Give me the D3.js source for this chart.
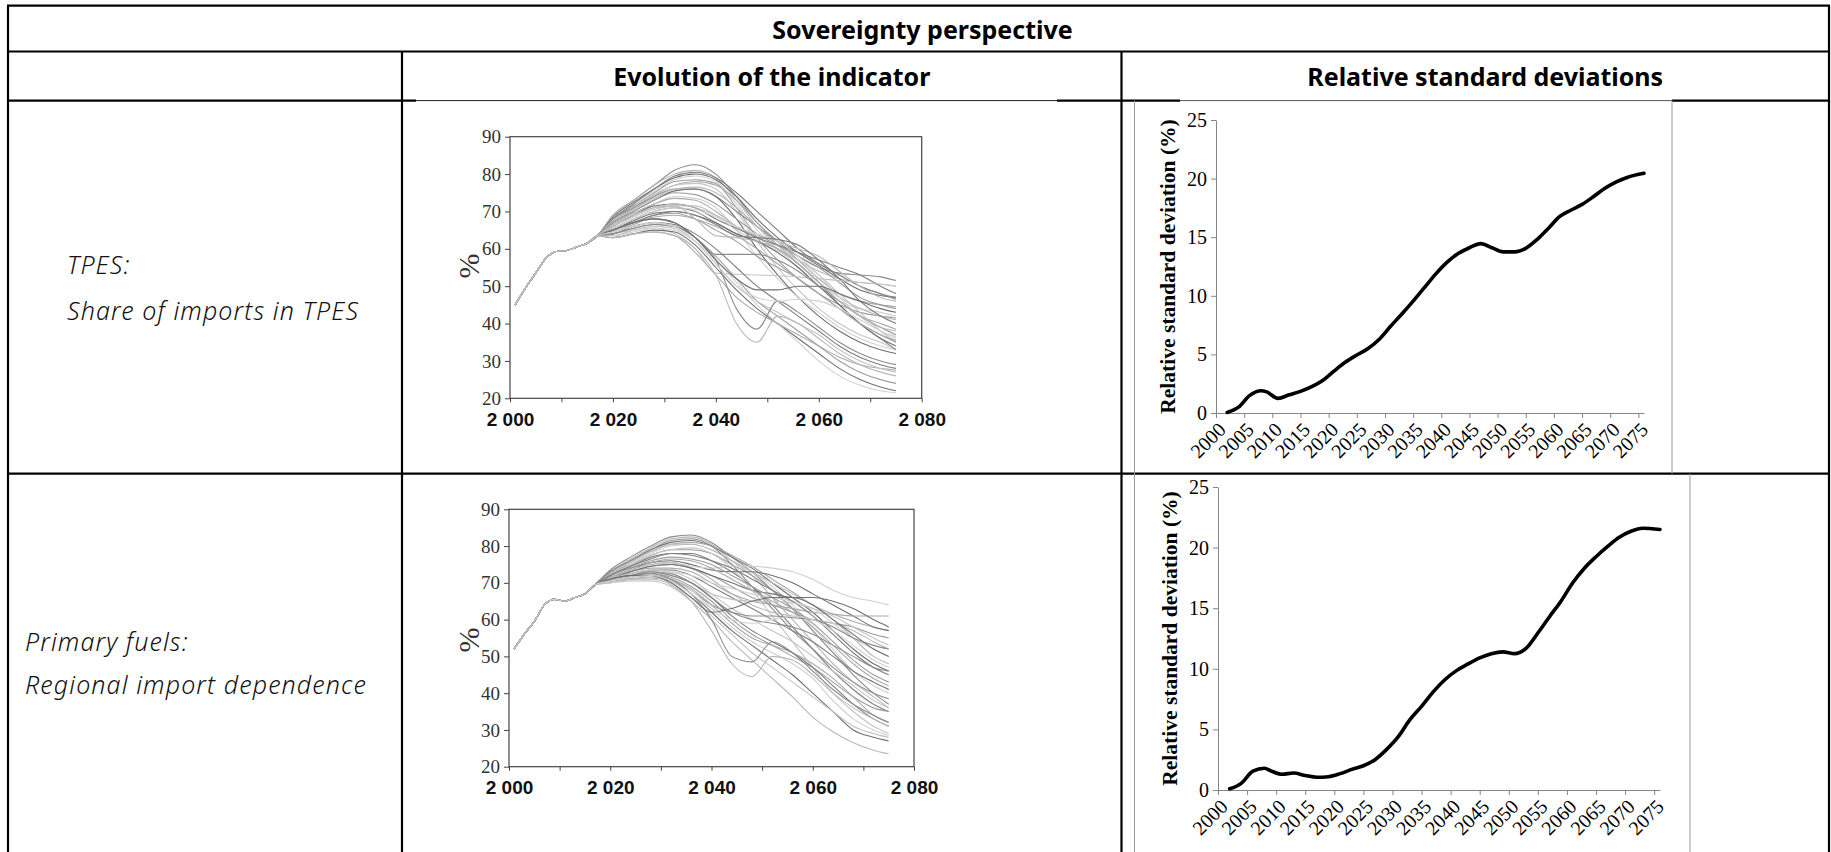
<!DOCTYPE html>
<html><head><meta charset="utf-8">
<script src="https://cdn.jsdelivr.net/npm/d3@7"></script>
<style>body{margin:0;background:#fff;} svg{display:block;}</style>
</head><body>
<svg id="c" width="1831" height="852"></svg>
<script>
// ---------------- DATA ----------------
const headerTitle = "Sovereignty perspective";
const columnTitles = ["Evolution of the indicator", "Relative standard deviations"];
const rowLabels = [["TPES:", "Share of imports in TPES"], ["Primary fuels:", "Regional import dependence"]];

const evoXTicks = [2000, 2020, 2040, 2060, 2080];
const evoXMinorTicks = [2000, 2010, 2020, 2030, 2040, 2050, 2060, 2070, 2080];
const evoYTicks = [20, 30, 40, 50, 60, 70, 80, 90];
const evoYLabel = "%";

const histYears = [2001, 2003, 2005, 2007, 2009, 2011, 2013, 2015, 2017];
const scenYears = [2020, 2024, 2028, 2032, 2036, 2040, 2044, 2048, 2052, 2056, 2060, 2064, 2068, 2072, 2075];

const tpesHistory = [45, 49.5, 53.5, 57.5, 59.3, 59.5, 60.5, 61.5, 63.5];
const tpesScenarios = [
  [69,73,77,81,82.5,80,74,67,62,58,55,53.5,53,52.5,51.5],
  [69,73,77,80,81,79,73,66,61,57,54,52,51,50.5,50],
  [68.5,72.5,76,79,80,78.5,74,68,63,59,55.5,52,49,47.5,47],
  [68,72,75.5,78.5,79.5,78,72,65,60,55,50,46,44,43,42],
  [68,71.5,75,78,78.5,77.5,71,63,57,52,48,45,43,42,41.5],
  [67.5,71,74.5,77,78,77,73,67,62,57,52,48,46,45,44.5],
  [68,72,76,79.5,80.5,79,75,70,65,60,56,53,50,48,46.5],
  [67,70.5,74,77,77.5,76,70,62,55,49,44,40,37,35,33],
  [68,71,74,76,76,74,70,66,62,59,56,53,50,48,47],
  [67.5,70.5,73.5,76,76.5,75,71,66,61,56,51,47,44,42,41],
  [67,70,73,75.5,76,74,68,60,53,47,42,38,35,33,32],
  [66,69,72,74,73.5,71,65,58,52,47,43,39,36,34,33],
  [67,70,73,75,74.5,72,68,64,61,58,55,51,47,45,44],
  [66.5,69.5,72,73.5,73,70,66,63,60,56,51,46,42,40,38.5],
  [66,69,71.5,72,71,68,65.5,63,61,59,57,55,53,50,48],
  [66,68.5,70.5,71.5,71.5,69,65,62,59.5,57,53,48,43,38,35],
  [65.5,68,70,71,70,67,64,62,60,56,51,45,40,36,33],
  [66.5,69,71,72,71,69,66,63.5,62,60,58,54,50,47,46],
  [65,67.5,69.5,70,69,67,64,62,59,55,50,45,40,36,34],
  [65.5,68,70,71,70.5,68.5,66,64,62,58,53,47,42,38,36.5],
  [65,67,69,69.5,68,65,62,58,55,52,48,44,40,37,35],
  [64.5,66.5,68.5,69,68,66,63.5,60,56,52,48,44,40,37,35.5],
  [65,67,69,70,69,66.5,63.5,63,62.5,61,57,52,46,42,40],
  [64,65,65.5,64,60,53.5,53.2,53,52.8,52.5,52,51.5,51,50.5,50],
  [65,67,68,67,63,58.5,58.5,58.5,57,54,50,46,42,39,37],
  [66,69,71,71.5,68,63.5,63,62,60,56,51,46,42,39,38],
  [63,64,65,64.5,61,55,49,44,40,36,32,28,25,23,22],
  [63.5,64.5,65.5,65,62,57,51,45,40,35,30,26,23.5,22,21.5],
  [64,65.5,66.5,66,63,58,52,46,42,38,34,30,27,25,24],
  [63,64,64.5,63.5,59,53,47,43,40,37,34,31,29,28,27.5],
  [64,66,67,66.5,64,60,55,50,46,42,38,34,31,29,28],
  [63.5,65,66,65.5,62,56,50,46,43,40,37,33,30,28,27],
  [64,65.5,66.5,66,63,57,44,38.5,46,43,39,35,32,30,29],
  [63,64,64.5,63.5,60,53,40,35,42,40,36,32,29,27,26],
  [65,67,68,67,63,57,52,49,49,50,50,48,46,44,43],
  [64.5,66,67,66,62,56,50,47,46,46.5,46,44,41,38,36]
];

const rimpHistory = [52, 56, 59.5, 64, 65.5, 65, 66, 67, 69.5];
const rimpScenarios = [
  [73.5,77,80,82.5,83,81,77,73,68,63,57,51,45,40,37],
  [73,76.5,79.5,82,82.5,80.5,76,72,66,60,54,48,43,39,36],
  [73,76,79,81,81.5,80,77,74,70,66,62,57,52,48,46],
  [72.5,75.5,78,80,80.5,79,76,73,69,64,58,52,46,42,40],
  [72.5,75,77.5,79,79,78,75,72,68,63,57,51,46,43,41],
  [73,76,78.5,80.5,81,80,77.5,74.5,71,67.5,64,61.5,59.5,58,57],
  [72,74.5,77,78,78,76,73,69,64,58,52,46,41,37,35],
  [72,75,77.5,79,79.5,78,74,68,61,54,47,40,35,31,29],
  [73,76,79,81.5,82,80,75,69,63,57,52,47,43,40,38.5],
  [72.5,75.5,78.5,80.5,80.5,79,76,73,70,67,64,60,55,50,48],
  [72,74,75.5,76,75,73.5,73,73,72,70,67,64,61,58,57],
  [71.5,73.5,75,75.5,74.5,74,74.5,74.5,74,73,71,68,66,65,64],
  [71.5,73,74.5,75,74,72,69,66,64,62,60,59,58,56,55],
  [71,73,74,74,73,70,67,65,64,63,62,61.5,61,61,61],
  [71,72.5,73.5,73.5,72,69,66,63,60,57,54,50,46,43,41],
  [71,72.5,73.5,73,71,67,63,60,57,54,50,46,42,38,36],
  [70.5,72,73,72.5,70,66,62,60,59,58,56,53,50,47,46],
  [71.5,73.5,75,75.5,74,71,67,64,62,61,60,59,57,54,52],
  [71,73,74.5,75,74,72,70,68,67,66,66,65,63,60,58],
  [70.5,72,73,73,72,70,68.5,67,66,65,63,59,55,52,50],
  [72,74,76,77,76.5,75,72,69,66,63,59,54,49,45,43],
  [71.5,73.5,75.5,76.5,76,74,71,68,65,62,58,53,48,44,42],
  [72,74.5,76.5,78,77.5,76,74,71,68,65,61,56,51,47,45],
  [71,72.5,73,72,70,67,65.5,65,65,64.5,63,61,58,55,53],
  [70.5,71.5,72,71,68,64,62,61,61,60.5,60,58,55,53,52],
  [70,70.5,70.5,69,65,60,54,49,44,39,33.5,29.5,26.5,24.5,23.5],
  [70.5,71,71.5,70.5,67,62,57,53,49,45,40,35,30,28,27],
  [70.5,71.5,72,71,68,63,58,54,51,48,44,38,33,30,28.5],
  [71,72,72.5,71.5,69,65,60,56,53,50,47,43,39,36,35],
  [70.5,71.5,72,71,68.5,64,59,55,53,51,48,44,39,34,32],
  [71,72,73,72,70,66,61,57,54,51,47,42,37,33,31],
  [70,71,71.5,70,66,61,56,51,47,43,39,35,31,29,28],
  [71,72,72.5,71,67,60,50,48.5,54,51,46,41,37,34,32],
  [70.5,71,71,69.5,65,57,48,44.5,50,49,45,40,36,33,31],
  [71,72,72,70,66,62,63,65,66,66,64,60,56,52,50],
  [70.5,71.5,72,70.5,67,63,60,59,60,61,60,57,53,49,47]
];

const rsdYears = [2002,2004,2006,2008,2009,2011,2013,2015,2017,2019,2021,2023,2025,2027,2029,2031,2033,2035,2037,2039,2041,2043,2045,2047,2049,2051,2053,2055,2057,2059,2061,2063,2065,2067,2069,2071,2073,2076];
const rsdTpes = [0.05,0.5,1.5,1.9,1.8,1.25,1.55,1.85,2.25,2.8,3.6,4.35,4.95,5.5,6.3,7.4,8.45,9.55,10.7,11.85,12.85,13.6,14.1,14.45,14.1,13.75,13.75,14.05,14.8,15.75,16.75,17.3,17.8,18.45,19.15,19.7,20.1,20.45];
const rsdRimp = [0.1,0.55,1.55,1.8,1.6,1.3,1.4,1.2,1.05,1.1,1.35,1.7,2.0,2.5,3.35,4.4,5.8,6.9,8.1,9.1,9.85,10.4,10.9,11.25,11.4,11.25,11.7,12.95,14.3,15.6,17.1,18.3,19.25,20.1,20.85,21.35,21.6,21.5];
const rsdXTicks = [2000,2005,2010,2015,2020,2025,2030,2035,2040,2045,2050,2055,2060,2065,2070,2075];
const rsdYTicks = [0, 5, 10, 15, 20, 25];
const rsdYLabel = "Relative standard deviation (%)";

// ---------------- STYLES / LAYOUT ----------------
const grayPalette = ["#8c8c8c","#b8b8b8","#707070","#d0d0d0","#9e9e9e","#aaaaaa","#7e7e7e","#c4c4c4"];
const svg = d3.select("#c");
svg.append("rect").attr("width",1831).attr("height",852).attr("fill","#fff");

const T = {left: 8, right: 1829, top: 5.7, hdr1: 51.5, hdr2: 100.6, row1: 473.7, bottom: 852, col1: 402, col2: 1121.5};
const hdrFont = "'Noto Sans', 'DejaVu Sans', sans-serif";

// ---------------- EVOLUTION CHARTS ----------------
const fmtSpace = d3.formatLocale({decimal: ".", thousands: " ", grouping: [3], currency: ["", ""]}).format(",");

function drawEvo(cfg, history, scenarios) {
  const g = svg.append("g");
  const x = d3.scaleLinear().domain([2000, 2080]).range([cfg.x0, cfg.x1]);
  const y = d3.scaleLinear().domain([20, 90]).range([cfg.y1, cfg.y0]);
  const line = d3.line().x(d => x(d[0])).y(d => y(d[1])).curve(d3.curveMonotoneX);
  scenarios.forEach((s, i) => {
    const pts = histYears.map((yr, k) => [yr, history[k]]).concat(scenYears.map((yr, k) => [yr, s[k]]));
    g.append("path").attr("d", line(pts)).attr("fill", "none")
      .attr("stroke", grayPalette[i % grayPalette.length]).attr("stroke-width", 1.1);
  });
  g.append("rect").attr("x", cfg.x0).attr("y", cfg.y0).attr("width", cfg.x1 - cfg.x0).attr("height", cfg.y1 - cfg.y0)
    .attr("fill", "none").attr("stroke", "#444").attr("stroke-width", 1.2);
  const ya = g.append("g").attr("transform", `translate(${cfg.x0},0)`)
    .call(d3.axisLeft(y).tickValues(evoYTicks).tickSize(5).tickPadding(4));
  ya.select(".domain").remove();
  ya.selectAll("line").attr("stroke", "#444");
  ya.selectAll("text").attr("font-family", "'Liberation Serif', serif").attr("font-size", 19).attr("fill", "#333");
  const xa = g.append("g").attr("transform", `translate(0,${cfg.y1})`)
    .call(d3.axisBottom(x).tickValues(evoXMinorTicks).tickSize(4).tickPadding(10)
      .tickFormat(d => evoXTicks.includes(d) ? fmtSpace(d) : ""));
  xa.select(".domain").remove();
  xa.selectAll("line").attr("stroke", "#444");
  xa.selectAll("text").attr("font-family", "'Liberation Sans', Arial, sans-serif").attr("font-weight", "bold")
    .attr("font-size", 19).attr("fill", "#111");
  g.append("text").attr("transform", `translate(${cfg.labX},${cfg.labY}) rotate(-90)`)
    .attr("text-anchor", "middle").attr("dominant-baseline", "central")
    .attr("font-family", "'Liberation Serif', serif").attr("font-size", 30).attr("fill", "#333").text(evoYLabel);
}

drawEvo({x0: 510, x1: 921.7, y0: 136.7, y1: 398.3, labX: 468, labY: 266}, tpesHistory, tpesScenarios);
drawEvo({x0: 509, x1: 914, y0: 509.3, y1: 766.7, labX: 468, labY: 640}, rimpHistory, rimpScenarios);

// ---------------- RSD CHARTS ----------------
function drawRsd(cfg, values) {
  const g = svg.append("g");
  const x = d3.scaleLinear().domain([2000, 2076]).range([cfg.x0, cfg.x1]);
  const y = d3.scaleLinear().domain([0, 25]).range([cfg.yb, cfg.yt]);
  const ya = g.append("g").attr("transform", `translate(${cfg.x0},0)`)
    .call(d3.axisLeft(y).tickValues(rsdYTicks).tickSize(5).tickPadding(4).tickSizeOuter(0));
  ya.select(".domain").attr("stroke", "#868686");
  ya.selectAll("line").attr("stroke", "#868686");
  ya.selectAll("text").attr("font-family", "'Liberation Serif', serif").attr("font-size", 20).attr("fill", "#000");
  const xa = g.append("g").attr("transform", `translate(0,${cfg.yb})`)
    .call(d3.axisBottom(x).tickValues(rsdXTicks).tickSize(5).tickSizeOuter(0).tickFormat(""));
  xa.select(".domain").attr("stroke", "#868686");
  xa.selectAll("line").attr("stroke", "#868686");
  g.selectAll(".xl").data(rsdXTicks).enter().append("text")
    .attr("transform", d => `translate(${x(d) + 6},${cfg.yb + 13}) rotate(-45)`)
    .attr("text-anchor", "end").attr("dy", "0.35em")
    .attr("font-family", "'Liberation Serif', serif").attr("font-size", 20).attr("fill", "#000")
    .text(d => d);
  const line = d3.line().x((d, i) => x(rsdYears[i])).y(d => y(d)).curve(d3.curveMonotoneX);
  g.append("path").attr("d", line(values)).attr("fill", "none").attr("stroke", "#000")
    .attr("stroke-width", 3.6).attr("stroke-linecap", "round").attr("stroke-linejoin", "round");
  g.append("text").attr("transform", `translate(${cfg.labX},${(cfg.yb + cfg.yt) / 2}) rotate(-90)`)
    .attr("text-anchor", "middle").attr("dominant-baseline", "central")
    .attr("font-family", "'Liberation Serif', serif").attr("font-weight", "bold").attr("font-size", 21.5)
    .attr("fill", "#000").text(rsdYLabel);
}

drawRsd({x0: 1216, x1: 1644, yb: 413, yt: 120, labX: 1168}, rsdTpes);
drawRsd({x0: 1218, x1: 1660, yb: 790, yt: 487, labX: 1170}, rsdRimp);

// ---------------- TABLE ----------------
const tl = svg.append("g");
function hline(y, x1, x2, w, c) { tl.append("line").attr("x1", x1).attr("x2", x2).attr("y1", y).attr("y2", y).attr("stroke", c || "#000").attr("stroke-width", w); }
function vline(x, y1, y2, w, c) { tl.append("line").attr("x1", x).attr("x2", x).attr("y1", y1).attr("y2", y2).attr("stroke", c || "#000").attr("stroke-width", w); }
hline(T.top, T.left - 1, T.right + 1, 2.2);
hline(T.hdr1, T.left, T.right, 2.2);
hline(T.hdr2, T.left, 416, 2.2);
hline(T.hdr2, 416, 1057, 1, "#222");
hline(T.hdr2, 1057, 1180, 2.2);
hline(T.hdr2, 1180, 1672, 1, "#555");
hline(T.hdr2, 1672, T.right, 2.2);
hline(T.row1, T.left, T.right, 2.2);
vline(T.left, T.top, T.bottom, 2.2);
vline(T.right, T.top, T.bottom, 2.2);
vline(T.col1, T.hdr1, T.bottom, 2.2);
vline(T.col2, T.hdr1, T.bottom, 2.2);
vline(1134.5, T.hdr2, T.bottom, 1, "#9a9a9a");
vline(1672, T.hdr2, T.row1, 1, "#9a9a9a");
vline(1690, T.row1, T.bottom, 1, "#9a9a9a");

svg.append("text").attr("x", (T.left + T.right) / 2 + 4).attr("y", (T.top + T.hdr1) / 2)
  .attr("text-anchor", "middle").attr("dominant-baseline", "central")
  .attr("font-family", hdrFont).attr("font-weight", "bold").attr("font-size", 25).text(headerTitle);
[[T.col1, T.col2], [T.col2, T.right]].forEach((c, i) => {
  svg.append("text").attr("x", (c[0] + c[1]) / 2 + 10).attr("y", (T.hdr1 + T.hdr2) / 2)
    .attr("text-anchor", "middle").attr("dominant-baseline", "central")
    .attr("font-family", hdrFont).attr("font-weight", "bold").attr("font-size", 25).text(columnTitles[i]);
});
const labelPos = [{x: 67, y: [274, 320]}, {x: 25, y: [651, 694]}];
rowLabels.forEach((lines, r) => {
  lines.forEach((t, k) => {
    svg.append("text").attr("x", labelPos[r].x).attr("y", labelPos[r].y[k])
      .attr("font-family", "'Noto Sans', 'Open Sans', sans-serif").attr("font-style", "italic")
      .attr("font-weight", 300).attr("font-size", 25).attr("letter-spacing", 1.1).attr("fill", "#111").text(t);
  });
});
</script>
</body></html>
